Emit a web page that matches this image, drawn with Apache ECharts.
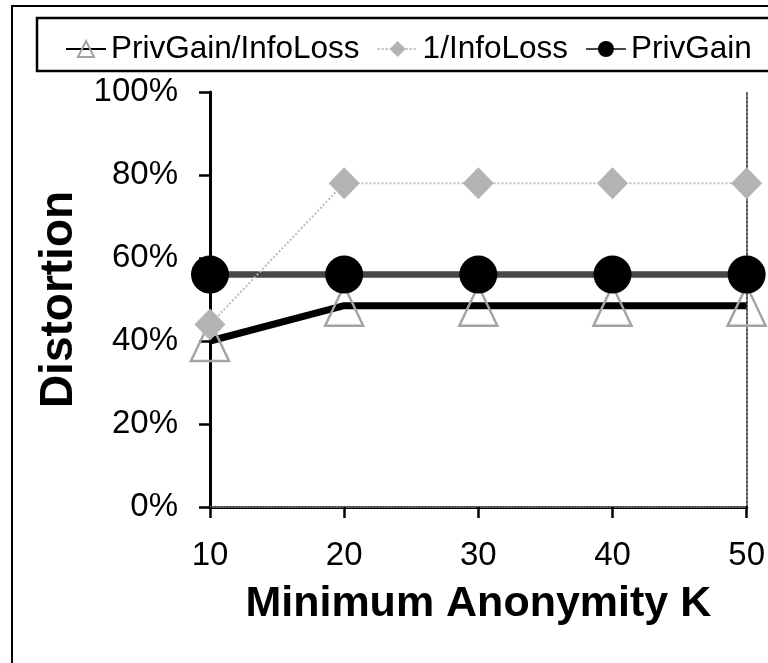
<!DOCTYPE html>
<html>
<head>
<meta charset="utf-8">
<script src="https://cdn.jsdelivr.net/npm/echarts@6/dist/echarts.min.js"></script>
<style>
  html, body { margin: 0; padding: 0; background: #fff; }
  #chart { width: 768px; height: 663px; }
</style>
</head>
<body>
<div id="chart"></div>
<script>
// Minimum anonymity K on the x axis
const kValues = [10, 20, 30, 40, 50];
// Distortion (%) for each strategy
const privGainOverInfoLoss = [40, 48.5, 48.5, 48.5, 48.5];
const inverseInfoLoss = [44, 78, 78, 78, 78];
const privGain = [56, 56, 56, 56, 56];
const yTicks = [0, 20, 40, 60, 80, 100];

const FONT = 'Liberation Sans';

function pairs(values) {
  return kValues.map((k, i) => [k, values[i]]);
}

const chart = echarts.init(document.getElementById('chart'), null, { renderer: 'canvas' });

chart.setOption({
  backgroundColor: '#fff',
  animation: false,
  graphic: [
    { type: 'rect', shape: { x: 12, y: 6, width: 800, height: 700 },
      style: { fill: 'none', stroke: '#000', lineWidth: 2 }, z: 0 },
    { type: 'rect', shape: { x: 37, y: 18, width: 800, height: 53 },
      style: { fill: 'none', stroke: '#000', lineWidth: 2.5 }, z: 0 }
  ],
  legend: {
    left: 60,
    top: 28,
    itemWidth: 40,
    itemHeight: 20,
    itemGap: 17,
    textStyle: { fontFamily: FONT, fontSize: 31.5, color: '#000' },
    data: ['PrivGain/InfoLoss', '1/InfoLoss', 'PrivGain']
  },
  grid: { left: 210, right: 17, top: 92, bottom: 156 },
  xAxis: [
    {
      type: 'value', min: kValues[0], max: kValues[kValues.length - 1], interval: 10,
      name: 'Minimum Anonymity K', nameLocation: 'middle', nameGap: 76,
      nameTextStyle: { fontFamily: FONT, fontSize: 43, fontWeight: 'bold', color: '#000' },
      axisLine: { lineStyle: { color: '#000', width: 3 } },
      axisTick: { show: true, length: 11, lineStyle: { color: '#000', width: 2.5 } },
      axisLabel: { margin: 32, fontFamily: FONT, fontSize: 33, color: '#000' },
      splitLine: { show: false }
    },
    {
      type: 'value', position: 'top', min: kValues[0], max: kValues[kValues.length - 1],
      axisLine: { show: true, lineStyle: { color: '#8a8a8a', width: 1.5, type: 'dotted' } },
      axisTick: { show: false }, axisLabel: { show: false }, splitLine: { show: false }
    }
  ],
  yAxis: [
    {
      type: 'value', min: yTicks[0], max: yTicks[yTicks.length - 1], interval: 20,
      name: 'Distortion', nameLocation: 'middle', nameGap: 125,
      nameTextStyle: { fontFamily: FONT, fontSize: 46, fontWeight: 'bold', color: '#000' },
      axisLine: { show: true, lineStyle: { color: '#000', width: 3 } },
      axisTick: { show: true, length: 11, lineStyle: { color: '#000', width: 2.5 } },
      axisLabel: { margin: 32, fontFamily: FONT, fontSize: 33, color: '#000', formatter: '{value}%' },
      splitLine: { show: false }
    },
    {
      type: 'value', position: 'right', min: yTicks[0], max: yTicks[yTicks.length - 1],
      axisLine: { show: true, lineStyle: { color: '#555', width: 2, type: 'dotted' } },
      axisTick: { show: false }, axisLabel: { show: false }, splitLine: { show: false }
    }
  ],
  series: [
    {
      name: 'PrivGain/InfoLoss', type: 'line', z: 2,
      data: pairs(privGainOverInfoLoss),
      symbol: 'triangle', symbolSize: [38, 40],
      lineStyle: { color: '#000', width: 7 },
      itemStyle: { color: 'rgba(255,255,255,0)', borderColor: '#a3a3a3', borderWidth: 2.5 }
    },
    {
      name: '1/InfoLoss', type: 'line', z: 4,
      data: pairs(inverseInfoLoss),
      symbol: 'diamond', symbolSize: [31, 32],
      lineStyle: { color: '#bdbdbd', width: 2, type: 'dotted' },
      itemStyle: { color: '#b3b3b3', borderColor: '#b3b3b3', borderWidth: 0 }
    },
    {
      name: 'PrivGain', type: 'line', z: 3,
      data: pairs(privGain),
      symbol: 'circle', symbolSize: 38,
      lineStyle: { color: '#474747', width: 6.5 },
      itemStyle: { color: '#000' }
    }
  ]
});
</script>
</body>
</html>
